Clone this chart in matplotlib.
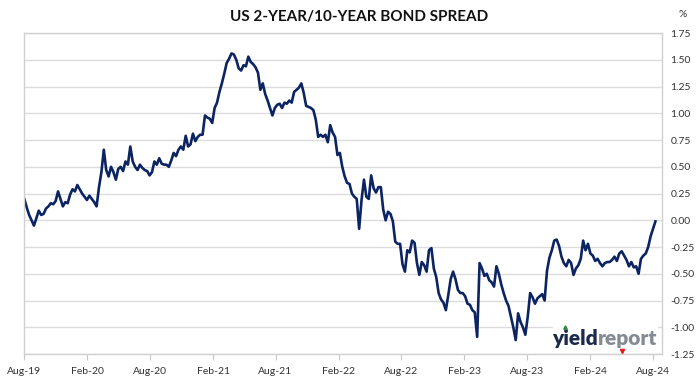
import pandas as pd
import matplotlib
matplotlib.use('Agg')
import matplotlib.pyplot as plt
import matplotlib.dates as mdates
from matplotlib.patches import Rectangle

# weekly readings (Fridays), US 10y minus 2y, %
start_week = '2019-08-02'
spread_2019 = [0.20, 0.12, 0.05, 0.00, -0.05, 0.02, 0.09, 0.05, 0.06, 0.11, 0.13,
               0.16, 0.15, 0.18, 0.27, 0.20, 0.13, 0.17, 0.16, 0.24, 0.29, 0.27]
spread_2020 = [0.33, 0.29, 0.25, 0.22, 0.19, 0.23, 0.20, 0.17, 0.13, 0.31, 0.45,
               0.66, 0.47, 0.41, 0.50, 0.45, 0.38, 0.48, 0.50, 0.46, 0.55, 0.52,
               0.69, 0.55, 0.50, 0.47, 0.52, 0.49, 0.47, 0.46, 0.42, 0.45, 0.55,
               0.52, 0.58, 0.53, 0.52, 0.52, 0.50, 0.56, 0.63, 0.60, 0.66, 0.69,
               0.66, 0.79, 0.69, 0.71, 0.81, 0.74, 0.78, 0.80]
spread_2021 = [0.80, 0.98, 0.96, 0.95, 0.91, 1.05, 1.10, 1.20, 1.28, 1.37, 1.47,
               1.51, 1.56, 1.55, 1.50, 1.42, 1.40, 1.45, 1.44, 1.53, 1.48, 1.46,
               1.43, 1.38, 1.22, 1.28, 1.18, 1.12, 1.05, 0.98, 1.05, 1.08, 1.09,
               1.05, 1.10, 1.09, 1.12, 1.10, 1.20, 1.22, 1.24, 1.28, 1.19, 1.07,
               1.06, 1.05, 1.03, 0.94, 0.78, 0.80, 0.78, 0.80, 0.73]
spread_2022 = [0.89, 0.82, 0.78, 0.61, 0.63, 0.50, 0.41, 0.35, 0.34, 0.25, 0.22,
               0.20, -0.08, 0.19, 0.38, 0.22, 0.20, 0.42, 0.30, 0.26, 0.31, 0.31,
               0.10, 0.00, 0.08, 0.06, -0.01, -0.20, -0.22, -0.22, -0.41, -0.48,
               -0.28, -0.30, -0.19, -0.21, -0.40, -0.51, -0.39, -0.42, -0.48, -0.28,
               -0.26, -0.45, -0.53, -0.68, -0.74, -0.77, -0.84, -0.70, -0.55, -0.48]
spread_2023 = [-0.55, -0.65, -0.68, -0.68, -0.71, -0.78, -0.79, -0.84, -0.86, -1.09,
               -0.40, -0.45, -0.52, -0.50, -0.56, -0.58, -0.62, -0.43, -0.50, -0.60,
               -0.68, -0.75, -0.80, -0.90, -1.00, -1.12, -0.87, -0.95, -1.00, -1.07,
               -0.90, -0.68, -0.72, -0.78, -0.73, -0.71, -0.69, -0.75, -0.47, -0.35,
               -0.28, -0.19, -0.18, -0.24, -0.34, -0.40, -0.43, -0.37, -0.40, -0.51,
               -0.45, -0.42]
spread_2024 = [-0.36, -0.19, -0.28, -0.22, -0.31, -0.33, -0.38, -0.36, -0.40, -0.43,
               -0.40, -0.39, -0.39, -0.37, -0.34, -0.38, -0.31, -0.29, -0.33, -0.37,
               -0.43, -0.39, -0.44, -0.43, -0.50, -0.36, -0.33, -0.31, -0.25, -0.15,
               -0.08, -0.01]

spread = spread_2019 + spread_2020 + spread_2021 + spread_2022 + spread_2023 + spread_2024
weeks = pd.date_range(start_week, periods=len(spread), freq='W-FRI')

y_ticks = [-1.25, -1.0, -0.75, -0.5, -0.25, 0.0, 0.25, 0.5, 0.75, 1.0, 1.25, 1.5, 1.75]

plt.rcParams['font.family'] = ['Lato', 'DejaVu Sans']

fig = plt.figure(figsize=(6.99, 3.85), dpi=100)
ax = fig.add_axes([0.0343, 0.0805, 0.9127, 0.8335])

ax.plot(weeks, spread, color='#0c2461', linewidth=1.9)

ax.set_xlim(pd.Timestamp('2019-08-01'), pd.Timestamp('2024-08-28'))
ax.set_ylim(-1.25, 1.75)
ax.set_yticks(y_ticks)
ax.set_yticklabels([f'{v:.2f}' for v in y_ticks])
ax.yaxis.tick_right()
ax.tick_params(axis='y', length=0, pad=6, labelsize=7.5, colors='#333333')

ax.xaxis.set_major_locator(mdates.MonthLocator(bymonth=[2, 8]))
ax.xaxis.set_major_formatter(mdates.DateFormatter('%b-%y'))
ax.tick_params(axis='x', length=4, width=0.8, color='#c8c8c8', pad=5,
               labelsize=7.5, labelcolor='#333333')

ax.grid(axis='y', color='#dcdcdc', linewidth=1)
ax.set_axisbelow(True)
for side in ['top', 'bottom', 'left', 'right']:
    ax.spines[side].set_color('#d0d0d0')
    ax.spines[side].set_linewidth(1)

fig.text(0.514, 0.955, 'US 2-YEAR/10-YEAR BOND SPREAD', ha='center', va='center',
         fontsize=11, fontweight='bold', color='#111111')
fig.text(0.977, 0.962, '%', ha='center', va='center', fontsize=7.5, color='#333333')

# watermark logo on a white patch
ax.add_patch(Rectangle((0.829, 0.004), 0.165, 0.086, transform=ax.transAxes,
                       facecolor='white', edgecolor='none', zorder=3))
ax.text(0.90, 0.028, 'yield', transform=ax.transAxes, ha='right', va='baseline',
        fontsize=15, fontweight='heavy', color='#1b2a4a', zorder=4)
ax.text(0.90, 0.028, 'report', transform=ax.transAxes, ha='left', va='baseline',
        fontsize=15, fontweight='heavy', color='#858b94', zorder=4)
ax.plot([0.848], [0.085], marker='^', markersize=2.5, color='#2e8b3e',
        transform=ax.transAxes, zorder=5, clip_on=False)
ax.plot([0.937], [0.008], marker='v', markersize=3, color='#e02020',
        transform=ax.transAxes, zorder=5, clip_on=False)

fig.savefig('out.png', dpi=100)
